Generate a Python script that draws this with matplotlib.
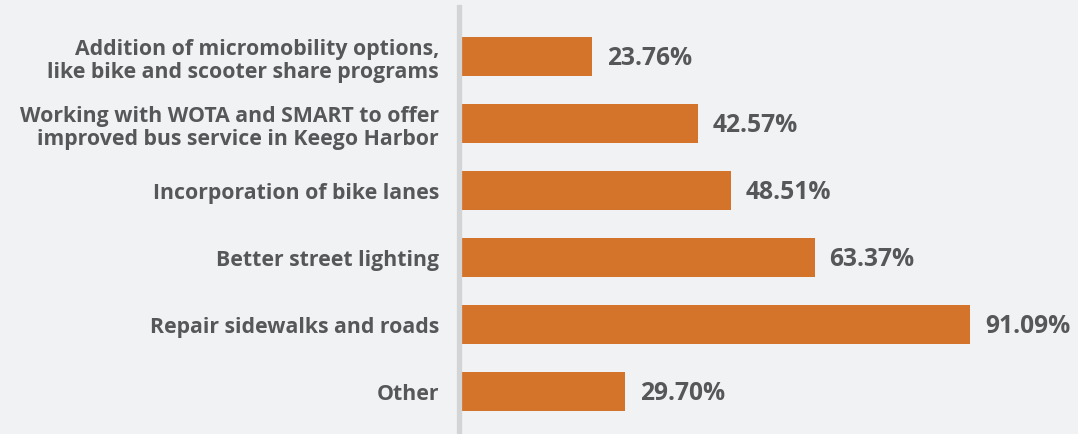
import matplotlib
matplotlib.use("Agg")
import matplotlib.pyplot as plt

categories = [
    "Addition of micromobility options,\nlike bike and scooter share programs",
    "Working with WOTA and SMART to offer\nimproved bus service in Keego Harbor",
    "Incorporation of bike lanes",
    "Better street lighting",
    "Repair sidewalks and roads",
    "Other",
]
values = [23.76, 42.57, 48.51, 63.37, 91.09, 29.70]
value_labels = ["23.76%", "42.57%", "48.51%", "63.37%", "91.09%", "29.70%"]

BG = "#f1f2f4"
BAR = "#d4742a"
TXT = "#555759"

W, H = 1078, 435
fig = plt.figure(figsize=(W / 100, H / 100), dpi=100, facecolor=BG)
ax = fig.add_axes([458.5 / W, 0, 562 / W, 427 / H], facecolor=BG)

y = list(range(len(values)))
ax.barh(y, values, height=0.58, color=BAR, zorder=2)
ax.set_xlim(0, 100)
ax.set_ylim(5.64, -0.74)

for yi, v, lab in zip(y, values, value_labels):
    ax.text(v + 2.6, yi + 0.02, lab, va="center", ha="left", fontsize=17.7,
            fontweight="bold", color=TXT, family="Open Sans")

ax.set_yticks(y)
ax.set_yticklabels(categories, fontsize=15.3, fontweight="bold", color=TXT,
                   family="Open Sans", linespacing=1.12)
ax.tick_params(axis="y", length=0, pad=14)
ax.set_xticks([])
for s in ["top", "right", "bottom"]:
    ax.spines[s].set_visible(False)
ax.spines["left"].set_color("#d3d4d6")
ax.spines["left"].set_linewidth(3.8)
ax.spines["left"].set_zorder(3)
for t in ax.get_yticklabels():
    t.set_multialignment("right")

fig.savefig("out.png", dpi=100, facecolor=BG)
